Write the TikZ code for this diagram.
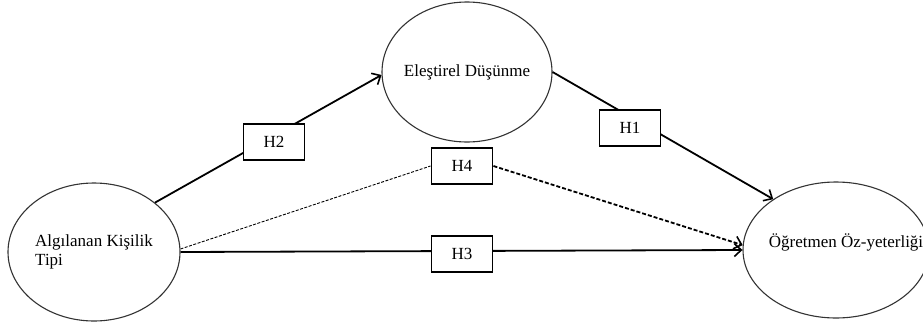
\documentclass[tikz,border=0pt]{standalone}
\usepackage{fontspec}
\setmainfont{Liberation Serif}
\usetikzlibrary{shapes.geometric, arrows.meta}

\tikzset{
    construct/.style={ellipse, draw=black!80, line width=1.1pt, inner sep=0pt,
        minimum width=172pt, minimum height=138pt},
    hypbox/.style={rectangle, draw, line width=1.9pt, fill=white,
        minimum width=61pt, minimum height=36pt, inner sep=0pt},
    path/.style={line width=1.8pt, -{Straight Barb[length=7pt, width=13pt, line width=1.6pt]}}
}

\begin{document}
\begin{tikzpicture}[x=1pt, y=-1pt, font=\fontsize{17}{19}\selectfont]
        \useasboundingbox (0,0) rectangle (923,327); % keep the page at the image size

        % constructs
        \node [construct, label={[align=left]center:Algılanan Kişilik\\Tipi}] (alg) at (94,252) {};
        \node [construct, minimum width=170pt, minimum height=140pt,
            label={center:Eleştirel Düşünme}] (ele) at (467,72) {};
        \node [construct, minimum width=186pt, minimum height=136pt,
            label={[xshift=10pt, yshift=8pt]center:Öğretmen Öz-yeterliği}] (ogr) at (836,250) {};

        % direct paths, the boxes sit on top of them
        \draw [path] (alg.39) -- (ele.182);
        \draw [path] (ele.east) -- (ogr.141);
        \draw [path] (alg.east) -- (ogr.west);

        % hypothesis boxes
        \node [hypbox] (h2) at (274,142) {H2};
        \node [hypbox] (h1) at (630,128) {H1};
        \node [hypbox] (h4) at (462,166) {H4};
        \node [hypbox] (h3) at (462,254) {H3};

        % mediated path
        \draw [line width=0.9pt, dash pattern=on 3pt off 1.5pt] (alg.2) -- (h4.west);
        \draw [path, dash pattern=on 4pt off 2pt] (h4.east) -- (ogr.177);
\end{tikzpicture}
\end{document}
